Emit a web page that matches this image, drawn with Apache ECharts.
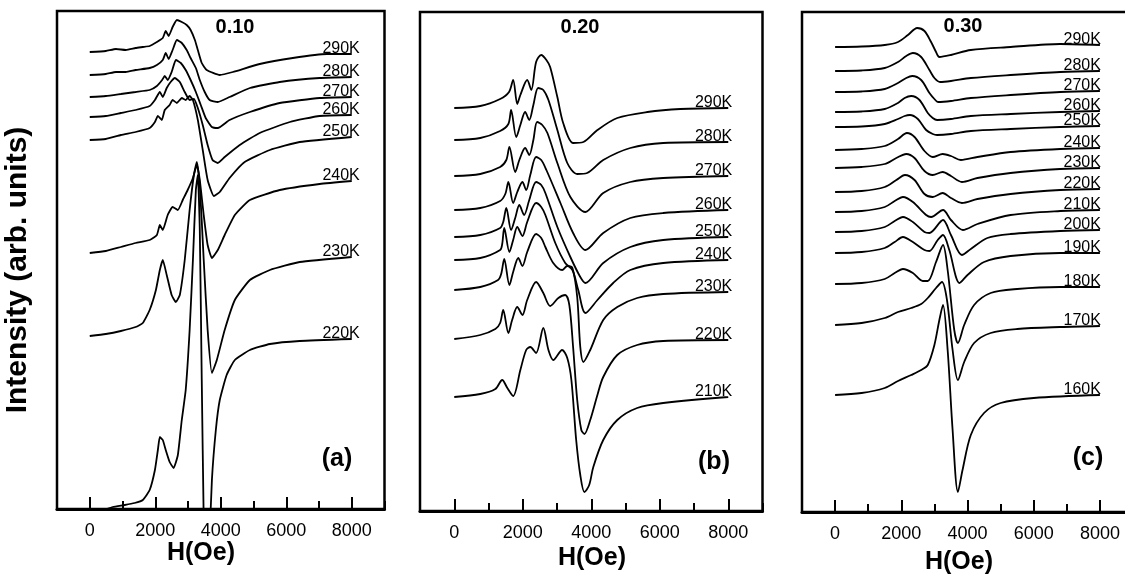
<!DOCTYPE html>
<html><head><meta charset="utf-8">
<script src="https://cdn.jsdelivr.net/npm/echarts@6/dist/echarts.min.js"></script>
<style>html,body{margin:0;padding:0;background:#fff}#c{width:1125px;height:575px}</style>
</head><body><div id="c"></div>
<script>
// ---------- data (H in Oe, intensity in arbitrary units) ----------
const panelTitles = ['0.10', '0.20', '0.30'];
const panelTags = ['(a)', '(b)', '(c)'];
const xTickLabels = [0, 2000, 4000, 6000, 8000];

const tempsA = ['290K','280K','270K','260K','250K','240K','230K','220K'];
const a290 = [[0,457],[490,458],[800,460],[1100,459],[1400,461],[1620,462],[1830,463],[2050,467],[2230,471],[2320,478],[2410,473],[2530,482],[2660,489],[2810,487],[2960,484],[3080,479],[3210,469],[3300,459],[3420,446],[3570,439],[3970,434],[4370,437],[5190,445],[6200,451],[7240,455],[8000,455]];
const a280 = [[0,434],[490,435],[800,437],[1100,437],[1400,439],[1830,441],[2050,444],[2230,449],[2320,456],[2410,450],[2530,459],[2660,469],[2810,466],[2960,459],[3080,451],[3240,441],[3360,429],[3510,417],[3660,409],[3910,407],[4270,412],[4890,421],[5800,427],[7020,431],[8000,432]];
const a270 = [[0,412],[490,413],[950,415],[1400,417],[1830,419],[2050,423],[2210,429],[2290,433],[2380,429],[2500,437],[2630,449],[2780,446],[2930,439],[3080,429],[3240,417],[3390,404],[3540,391],[3730,382],[3910,381],[4270,389],[4890,397],[5800,406],[7020,411],[8000,412]];
const a260 = [[0,392],[490,393],[950,396],[1400,399],[1830,403],[1990,409],[2140,417],[2230,412],[2350,421],[2470,427],[2600,431],[2750,427],[2900,417],[3050,409],[3180,410],[3300,401],[3450,384],[3600,364],[3750,349],[3910,346],[4120,352],[4580,364],[5190,376],[6110,387],[7020,393],[8000,394]];
const a250 = [[0,369],[490,370],[950,374],[1400,377],[1830,381],[1990,387],[2080,393],[2200,389],[2290,399],[2440,404],[2530,409],[2660,406],[2810,411],[2930,409],[3050,413],[3150,409],[3300,389],[3450,359],[3600,329],[3790,313],[3970,317],[4270,331],[4730,347],[5500,359],[6410,367],[8000,372]];
const a240 = [[0,256],[490,258],[950,262],[1400,266],[1830,269],[2050,274],[2140,284],[2230,279],[2380,294],[2530,302],[2690,299],[2840,309],[2990,319],[3150,331],[3270,344],[3360,329],[3480,294],[3600,264],[3730,251],[3910,259],[4120,274],[4430,294],[4890,309],[5800,319],[7020,325],[8000,328]];
const a230 = [[0,173],[490,175],[950,178],[1400,182],[1620,186],[1830,199],[2020,219],[2140,239],[2230,249],[2350,234],[2500,214],[2630,207],[2750,214],[2900,249],[3050,299],[3180,334],[3270,347],[3360,324],[3480,249],[3600,179],[3730,136],[3880,149],[4120,179],[4430,209],[4890,229],[5500,239],[6410,247],[8000,252]];
const a220 = [[0,-4],[340,-2],[700,2],[1070,4],[1370,6],[1620,9],[1830,19],[1990,39],[2080,59],[2140,72],[2230,69],[2320,59],[2440,47],[2560,41],[2690,54],[2810,89],[2930,119],[3050,179],[3150,249],[3240,319],[3300,334],[3360,279],[3420,129],[3480,-11],[3540,-91],[3630,-51],[3730,29],[3850,79],[3970,109],[4180,134],[4430,149],[4890,159],[5500,165],[6410,168],[8000,170]];

const tempsB = ['290K','280K','270K','260K','250K','240K','230K','220K','210K'];
const b290 = [[0,403],[760,405],[1340,412],[1600,419],[1720,431],[1840,407],[1930,416],[2130,431],[2250,421],[2390,449],[2540,456],[2690,451],[2800,444],[3010,414],[3180,388],[3470,368],[3770,369],[4180,381],[4760,393],[5640,399],[6600,402],[8000,403]];
const b280 = [[0,371],[760,373],[1340,380],[1580,387],[1660,401],[1810,374],[1930,386],[2070,399],[2190,391],[2310,406],[2450,423],[2600,421],[2750,411],[3010,381],[3300,348],[3590,337],[3880,338],[4350,351],[5140,363],[6100,368],[8000,369]];
const b270 = [[0,335],[760,337],[1340,344],[1520,351],[1610,364],[1780,339],[1900,351],[2070,363],[2190,356],[2310,371],[2420,389],[2570,386],[2720,378],[3010,348],[3390,314],[3830,299],[4350,318],[5140,329],[6100,333],[8000,335]];
const b260 = [[0,301],[760,303],[1340,310],[1490,317],[1580,329],[1720,308],[1840,319],[1990,329],[2100,321],[2220,336],[2390,354],[2540,351],[2690,341],[3100,308],[3470,278],[3830,261],[4350,278],[5140,293],[6100,298],[8000,301]];
const b250 = [[0,274],[760,276],[1340,283],[1430,289],[1520,303],[1660,281],[1780,293],[1900,306],[2040,296],[2190,311],[2390,329],[2540,326],[2660,318],[3010,284],[3390,254],[3680,234],[3830,228],[4350,248],[5140,264],[6100,271],[8000,274]];
const b240 = [[0,251],[760,253],[1340,261],[1400,267],[1460,283],[1610,259],[1720,271],[1840,284],[1990,275],[2130,289],[2390,308],[2540,304],[2660,296],[2950,268],[3240,248],[3450,241],[3620,221],[3830,198],[4180,211],[4640,228],[5140,241],[6100,248],[8000,251]];
const b230 = [[0,221],[760,224],[1280,231],[1370,237],[1460,252],[1610,226],[1720,239],[1870,253],[1990,245],[2130,259],[2390,277],[2540,273],[2660,264],[2890,248],[3150,241],[3300,245],[3450,243],[3590,214],[3680,164],[3770,149],[3970,161],[4350,191],[4760,204],[5340,213],[6100,217],[8000,219]];
const b220 = [[0,172],[760,176],[1200,182],[1340,188],[1430,201],[1580,178],[1690,191],[1840,204],[1990,196],[2130,211],[2390,229],[2600,218],[2800,205],[3040,213],[3240,216],[3360,206],[3470,164],[3590,111],[3710,81],[3800,77],[3970,91],[4180,116],[4350,134],[4760,156],[5340,166],[6100,170],[8000,171]];
const b210 = [[0,114],[760,117],[1200,122],[1400,131],[1550,123],[1720,115],[1930,141],[2100,161],[2220,164],[2390,158],[2600,183],[2750,161],[2890,151],[3150,161],[3300,153],[3420,131],[3560,71],[3680,36],[3800,19],[3940,26],[4060,44],[4350,71],[4760,91],[5340,103],[6100,108],[8000,114]];

const tempsC = ['290K','280K','270K','260K','250K','240K','230K','220K','210K','200K','190K','180K','170K','160K'];
const c290 = [[0,465],[800,465.5],[1500,467],[1900,470],[2200,477],[2480,484],[2700,481],[2900,470],[3050,460],[3150,455],[3500,457],[4100,462],[5300,465],[6800,468],[8000,467]];
const c280 = [[0,441],[800,441.5],[1500,444],[1900,450],[2150,456],[2350,459],[2600,455],[2850,442],[3000,434],[3170,430],[3500,431],[4100,434],[5300,437],[6800,440],[8000,441]];
const c270 = [[0,420],[800,420.5],[1500,423],[1900,429],[2150,434],[2330,436],[2600,432],[2850,419],[3000,413],[3110,410],[3500,411],[4100,414],[5300,417],[6800,420],[8000,421]];
const c260 = [[0,400],[800,400.5],[1500,403],[1900,409],[2100,414],[2300,416],[2550,412],[2800,399],[2950,394],[3080,392],[3500,393],[4100,396],[5300,398],[6800,400],[8000,401]];
const c250 = [[0,385],[800,385.5],[1500,388],[1900,393],[2100,396],[2260,397],[2500,393],[2750,382],[2950,378],[3080,377],[3500,378],[4100,381],[5300,383],[6800,385],[8000,386]];
const c240 = [[0,362],[800,363],[1500,366],[1900,373],[2170,379],[2400,375],[2700,361],[2950,355],[3250,358],[3500,356],[3800,352],[4300,355],[5300,360],[6800,363],[8000,364]];
const c230 = [[0,344],[800,345],[1500,348],[1850,354],[2150,358],[2400,354],[2700,341],[2950,337],[3250,340],[3500,336],[3830,330],[4300,334],[5300,339],[6800,343],[8000,344]];
const c220 = [[0,320],[800,321],[1500,325],[1850,332],[2110,337],[2400,332],[2700,318],[2950,315],[3250,319],[3500,314],[3830,309],[4300,313],[5300,318],[6800,322],[8000,323]];
const c210 = [[0,300],[800,301],[1500,305],[1800,311],[2050,315],[2350,310],[2750,297],[2900,295],[3260,302],[3500,292],[3860,282],[4300,288],[5300,297],[6800,301],[8000,302]];
const c200 = [[0,280],[800,281],[1500,285],[1800,291],[2050,295],[2350,290],[2700,280],[2850,279],[3260,292],[3500,277],[3830,257],[4100,263],[4600,274],[5300,278],[6800,281],[8000,282]];
const c190 = [[0,259],[800,260],[1500,264],[1800,270],[2050,275],[2350,270],[2700,262],[2850,261],[3100,272],[3260,277],[3450,262],[3760,229],[4000,237],[4500,250],[5300,256],[6800,259],[8000,259]];
const c180 = [[0,228],[800,229],[1500,233],[1800,239],[2050,243],[2350,239],[2650,231],[2800,231],[3050,250],[3260,267],[3400,242],[3600,182],[3710,169],[3900,187],[4200,207],[4700,219],[5500,223],[6800,225],[8000,225]];
const c170 = [[0,187],[800,189],[1500,194],[1900,200],[2300,204],[2600,208],[2800,214],[3050,224],[3230,230],[3380,212],[3550,162],[3710,132],[3900,150],[4200,169],[4700,179],[5500,183],[6800,185],[8000,186]];
const c160 = [[0,117],[800,119],[1500,124],[1900,131],[2300,137],[2600,142],[2800,147],[3000,167],[3150,192],[3260,207],[3400,162],[3550,82],[3710,20],[3850,42],[4100,77],[4500,99],[5000,109],[6000,114],[8000,117]];

const curvesA = [a290, a280, a270, a260, a250, a240, a230, a220];
const curvesB = [b290, b280, b270, b260, b250, b240, b230, b220, b210];
const curvesC = [c290, c280, c270, c260, c250, c240, c230, c220, c210, c200, c190, c180, c170, c160];

// ---------- layout ----------
const FONT = '"Liberation Sans", Arial, sans-serif';
const panels = [
  {grid:{left:57, top:11, width:327.5, height:498}, ymax:498, curves:curvesA, temps:tempsA, lblDx:8, smooth:0.15},
  {grid:{left:420, top:12, width:342.5, height:499}, ymax:499, curves:curvesB, temps:tempsB, lblDx:4, smooth:0.3},
  {grid:{left:802, top:12, width:331, height:500}, ymax:500, curves:curvesC, temps:tempsC, lblDx:1, smooth:0.3}
];

const grids = [], xAxes = [], yAxes = [], series = [];
panels.forEach((p, pi) => {
  grids.push(Object.assign({show:true, borderColor:'#000', borderWidth:2.5, backgroundColor:'transparent',
    containLabel:false, outerBoundsMode:'none'}, p.grid));
  // tick axis: minor (odd thousands) as axisTick, major (even thousands) as minorTick
  xAxes.push({
    type:'value', gridIndex:pi, position:'bottom', min:-1000, max:9000, interval:2000,
    axisLine:{show:true, onZero:false, lineStyle:{color:'#000', width:3}},
    axisTick:{show:true, inside:true, length:8, lineStyle:{color:'#000', width:2}},
    minorTick:{show:true, splitNumber:2, length:12, lineStyle:{color:'#000', width:2}},
    axisLabel:{show:false}, splitLine:{show:false}, minorSplitLine:{show:false}
  });
  // label axis
  xAxes.push({
    type:'value', gridIndex:pi, position:'bottom', min:-1000, max:9000, interval:1000,
    axisLine:{show:false, onZero:false}, axisTick:{show:false}, splitLine:{show:false},
    axisLabel:{show:true, margin:13, color:'#000', fontSize:18, fontFamily:FONT,
      formatter: v => xTickLabels.indexOf(v) >= 0 ? String(v) : ''}
  });
  yAxes.push({type:'value', gridIndex:pi, min:0, max:p.ymax, show:false});
  p.curves.forEach((data, ci) => {
    const last = data[data.length - 1];
    series.push({
      type:'line', xAxisIndex:pi*2, yAxisIndex:pi, data:data,
      showSymbol:false, symbol:'none', smooth:p.smooth, clip:true, silent:true,
      lineStyle:{color:'#000', width:1.8},
      markPoint:{
        symbol:'circle', symbolSize:0, silent:true, animation:false,
        itemStyle:{color:'transparent'},
        data:[{coord:[last[0], last[1]]}],
        label:{show:true, formatter:p.temps[ci], position:[p.lblDx, 3], align:'right', verticalAlign:'bottom',
          color:'#000', fontSize:16, fontFamily:FONT}
      }
    });
  });
});

const txt = (text, x, y, size, rot) => ({
  type:'text', x:x, y:y, rotation:rot || 0, silent:true,
  style:{text:text, fill:'#000', font:'bold ' + size + 'px ' + FONT, align:'center', verticalAlign:'middle'}
});

const graphic = [
  txt('Intensity (arb. units)', 18, 270, 30, Math.PI/2),
  txt(panelTitles[0], 235, 27, 20), txt(panelTitles[1], 580, 27, 20), txt(panelTitles[2], 963, 26, 20),
  txt(panelTags[0], 337, 459, 25), txt(panelTags[1], 714, 462, 25), txt(panelTags[2], 1088, 458, 25),
  txt('H(Oe)', 201, 553, 25), txt('H(Oe)', 592, 558, 25), txt('H(Oe)', 959, 562, 25)
];

const chart = echarts.init(document.getElementById('c'), null, {renderer:'canvas'});
chart.setOption({
  animation:false, backgroundColor:'#fff',
  grid:grids, xAxis:xAxes, yAxis:yAxes, series:series, graphic:graphic
});
</script>
</body></html>
